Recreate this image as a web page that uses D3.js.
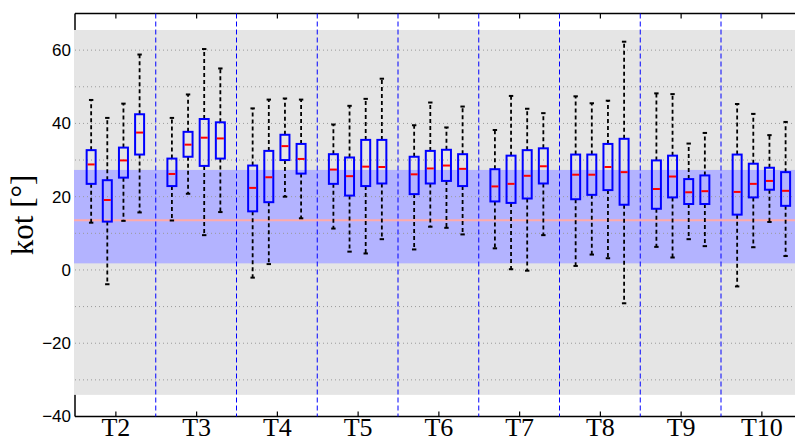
<!DOCTYPE html>
<html>
<head>
<meta charset="utf-8">
<script src="https://cdn.jsdelivr.net/npm/d3@7"></script>
<style>
  html, body { margin: 0; padding: 0; background: #ffffff; }
  svg { display: block; }
</style>
</head>
<body>
<svg id="chart" width="795" height="441"></svg>
<script>
// ---------------- data ----------------
const categories = ["T2", "T3", "T4", "T5", "T6", "T7", "T8", "T9", "T10"];
const yTicks = [-40, -20, 0, 20, 40, 60];
const gridValues = [-30, -20, -10, 0, 10, 20, 30, 40, 50, 60];
// each category has 4 boxes
const whiskerHigh = [
  [46.4, 41.5, 45.4, 58.8],
  [41.5, 47.9, 60.3, 55.0],
  [44.1, 46.5, 46.8, 46.5],
  [39.7, 44.8, 46.7, 52.2],
  [39.5, 45.7, 38.9, 44.6],
  [38.2, 47.5, 44.0, 42.8],
  [47.4, 45.5, 46.2, 62.3],
  [48.2, 48.0, 34.5, 37.4],
  [45.3, 42.6, 36.8, 40.4]
];
const q3 = [
  [32.7, 24.5, 33.4, 42.5],
  [30.4, 37.7, 41.2, 40.3],
  [28.5, 32.5, 36.9, 34.4],
  [31.6, 30.7, 35.5, 35.5],
  [30.9, 32.5, 32.8, 31.6],
  [27.5, 31.2, 32.7, 33.2],
  [31.5, 31.5, 34.4, 35.8],
  [29.9, 31.2, 24.8, 25.8],
  [31.5, 29.0, 27.9, 26.7]
];
const medians = [
  [28.8, 19.1, 29.9, 37.5],
  [26.2, 34.2, 36.1, 35.9],
  [22.4, 25.3, 33.8, 30.3],
  [27.4, 25.6, 28.2, 28.1],
  [26.1, 27.7, 28.5, 27.6],
  [22.8, 23.5, 25.7, 28.3],
  [26.0, 26.0, 28.1, 26.7],
  [22.1, 25.5, 21.2, 21.5],
  [21.3, 23.5, 24.3, 21.6]
];
const q1 = [
  [23.5, 13.2, 25.2, 31.5],
  [22.9, 30.9, 28.4, 30.4],
  [16.0, 18.5, 30.0, 26.3],
  [23.5, 20.3, 22.9, 23.6],
  [20.7, 23.6, 24.3, 22.9],
  [18.7, 18.3, 19.5, 23.6],
  [19.3, 20.5, 21.8, 17.8],
  [16.7, 19.8, 18.0, 18.0],
  [15.1, 19.8, 21.9, 17.5]
];
const whiskerLow = [
  [12.9, -3.9, 13.4, 15.7],
  [13.5, 20.8, 9.5, 15.8],
  [-2.1, 1.6, 20.0, 14.1],
  [11.3, 5.0, 4.5, 8.4],
  [5.6, 11.8, 11.5, 9.7],
  [5.9, 0.2, -0.2, 9.5],
  [1.1, 4.2, 3.2, -9.1],
  [6.3, 3.4, 8.4, 6.5],
  [-4.5, 6.2, 13.1, 3.8]
];
const boxOffsets = [-0.3, -0.1, 0.1, 0.3];
const grayBand = [-34.1, 65.5];
const blueBand = [1.8, 27.3];
const referenceLine = 13.6;
const yDomain = [-40, 70];
const xDomain = [1.5, 10.5];

// ---------------- layout ----------------
const svg = d3.select("#chart");
const mLeft = 75, mRight = 801.75, mTop = 13.5, mBottom = 416.5;
const x = d3.scaleLinear().domain(xDomain).range([mLeft, mRight]);
const y = d3.scaleLinear().domain(yDomain).range([mBottom, mTop]);

// frame lines
svg.append("line").attr("x1", mLeft).attr("x2", mRight + 5).attr("y1", mTop).attr("y2", mTop)
  .attr("stroke", "#000").attr("stroke-width", 1.5);
svg.append("line").attr("x1", mLeft).attr("x2", mRight + 5).attr("y1", mBottom).attr("y2", mBottom)
  .attr("stroke", "#000").attr("stroke-width", 1.5);
svg.append("line").attr("x1", mLeft).attr("x2", mLeft).attr("y1", mTop).attr("y2", mBottom)
  .attr("stroke", "#000").attr("stroke-width", 1.5);

// bands
svg.append("rect").attr("x", mLeft - 1).attr("width", mRight - mLeft + 6)
  .attr("y", y(grayBand[1])).attr("height", y(grayBand[0]) - y(grayBand[1]))
  .attr("fill", "#e5e5e5");
svg.append("rect").attr("x", mLeft - 1).attr("width", mRight - mLeft + 6)
  .attr("y", y(blueBand[1])).attr("height", y(blueBand[0]) - y(blueBand[1]))
  .attr("fill", "#b3b3ff");

// grid
svg.append("g").selectAll("line").data(gridValues).join("line")
  .attr("x1", mLeft).attr("x2", mRight + 5)
  .attr("y1", d => y(d)).attr("y2", d => y(d))
  .attr("stroke", "#9a9a9a").attr("stroke-width", 1).attr("stroke-dasharray", "1,3");

// reference line
svg.append("line").attr("x1", mLeft - 1).attr("x2", mRight + 5)
  .attr("y1", y(referenceLine)).attr("y2", y(referenceLine))
  .attr("stroke", "#ffaaaa").attr("stroke-width", 2);

// separators
const seps = d3.range(categories.length - 1).map(i => i + 2.5);
svg.append("g").selectAll("line").data(seps).join("line")
  .attr("x1", d => x(d)).attr("x2", d => x(d))
  .attr("y1", mTop).attr("y2", mBottom)
  .attr("stroke", "#0000ff").attr("stroke-width", 1).attr("stroke-dasharray", "5,3");

// axes
const yAxis = d3.axisLeft(y).tickValues(yTicks).tickSize(0).tickPadding(4);
const gy = svg.append("g").attr("transform", `translate(${mLeft},0)`).call(yAxis);
gy.select(".domain").remove();
gy.selectAll("text").attr("font-family", "Liberation Sans, Arial, sans-serif")
  .attr("font-size", 17).attr("fill", "#000");

const catVals = categories.map((c, i) => i + 2);
const xAxis = d3.axisBottom(x).tickValues(catVals).tickFormat(v => categories[v - 2])
  .tickSizeInner(-5).tickSizeOuter(0).tickPadding(1);
const gx = svg.append("g").attr("transform", `translate(0,${mBottom})`).call(xAxis);
gx.select(".domain").remove();
gx.selectAll("line").attr("stroke", "#000").attr("stroke-width", 1.2);
gx.selectAll("text").attr("font-family", "Liberation Serif, Times New Roman, serif")
  .attr("font-size", 26).attr("fill", "#000");

const xTop = d3.axisTop(x).tickValues(catVals).tickFormat("").tickSizeInner(-5).tickSizeOuter(0);
const gt = svg.append("g").attr("transform", `translate(0,${mTop})`).call(xTop);
gt.select(".domain").remove();
gt.selectAll("line").attr("stroke", "#000").attr("stroke-width", 1.2);

// y label
svg.append("text")
  .attr("transform", `translate(33,${(mTop + mBottom) / 2}) rotate(-90)`)
  .attr("text-anchor", "middle")
  .attr("font-family", "Liberation Serif, Times New Roman, serif")
  .attr("font-size", 31).attr("fill", "#000")
  .text("kot [°]");

// boxes
const boxes = [];
categories.forEach((c, i) => {
  boxOffsets.forEach((o, j) => {
    boxes.push({
      pos: i + 2 + o,
      hi: whiskerHigh[i][j], q3: q3[i][j], med: medians[i][j], q1: q1[i][j], lo: whiskerLow[i][j]
    });
  });
});
const halfW = 4.5;
const capW = 2.2;
const gb = svg.append("g");
const bx = gb.selectAll("g").data(boxes).join("g");
bx.append("line").attr("x1", d => x(d.pos)).attr("x2", d => x(d.pos))
  .attr("y1", d => y(d.q3)).attr("y2", d => y(d.hi))
  .attr("stroke", "#000").attr("stroke-width", 1.8).attr("stroke-dasharray", "4,3");
bx.append("line").attr("x1", d => x(d.pos)).attr("x2", d => x(d.pos))
  .attr("y1", d => y(d.q1)).attr("y2", d => y(d.lo))
  .attr("stroke", "#000").attr("stroke-width", 1.8).attr("stroke-dasharray", "4,3");
bx.append("line").attr("x1", d => x(d.pos) - capW).attr("x2", d => x(d.pos) + capW)
  .attr("y1", d => y(d.hi)).attr("y2", d => y(d.hi))
  .attr("stroke", "#000").attr("stroke-width", 2);
bx.append("line").attr("x1", d => x(d.pos) - capW).attr("x2", d => x(d.pos) + capW)
  .attr("y1", d => y(d.lo)).attr("y2", d => y(d.lo))
  .attr("stroke", "#000").attr("stroke-width", 2);
bx.append("rect").attr("x", d => x(d.pos) - halfW).attr("width", halfW * 2)
  .attr("y", d => y(d.q3)).attr("height", d => y(d.q1) - y(d.q3))
  .attr("fill", "none").attr("stroke", "#0000ff").attr("stroke-width", 2);
bx.append("line").attr("x1", d => x(d.pos) - halfW + 1).attr("x2", d => x(d.pos) + halfW - 1)
  .attr("y1", d => y(d.med)).attr("y2", d => y(d.med))
  .attr("stroke", "#ff0000").attr("stroke-width", 2);
</script>
</body>
</html>
